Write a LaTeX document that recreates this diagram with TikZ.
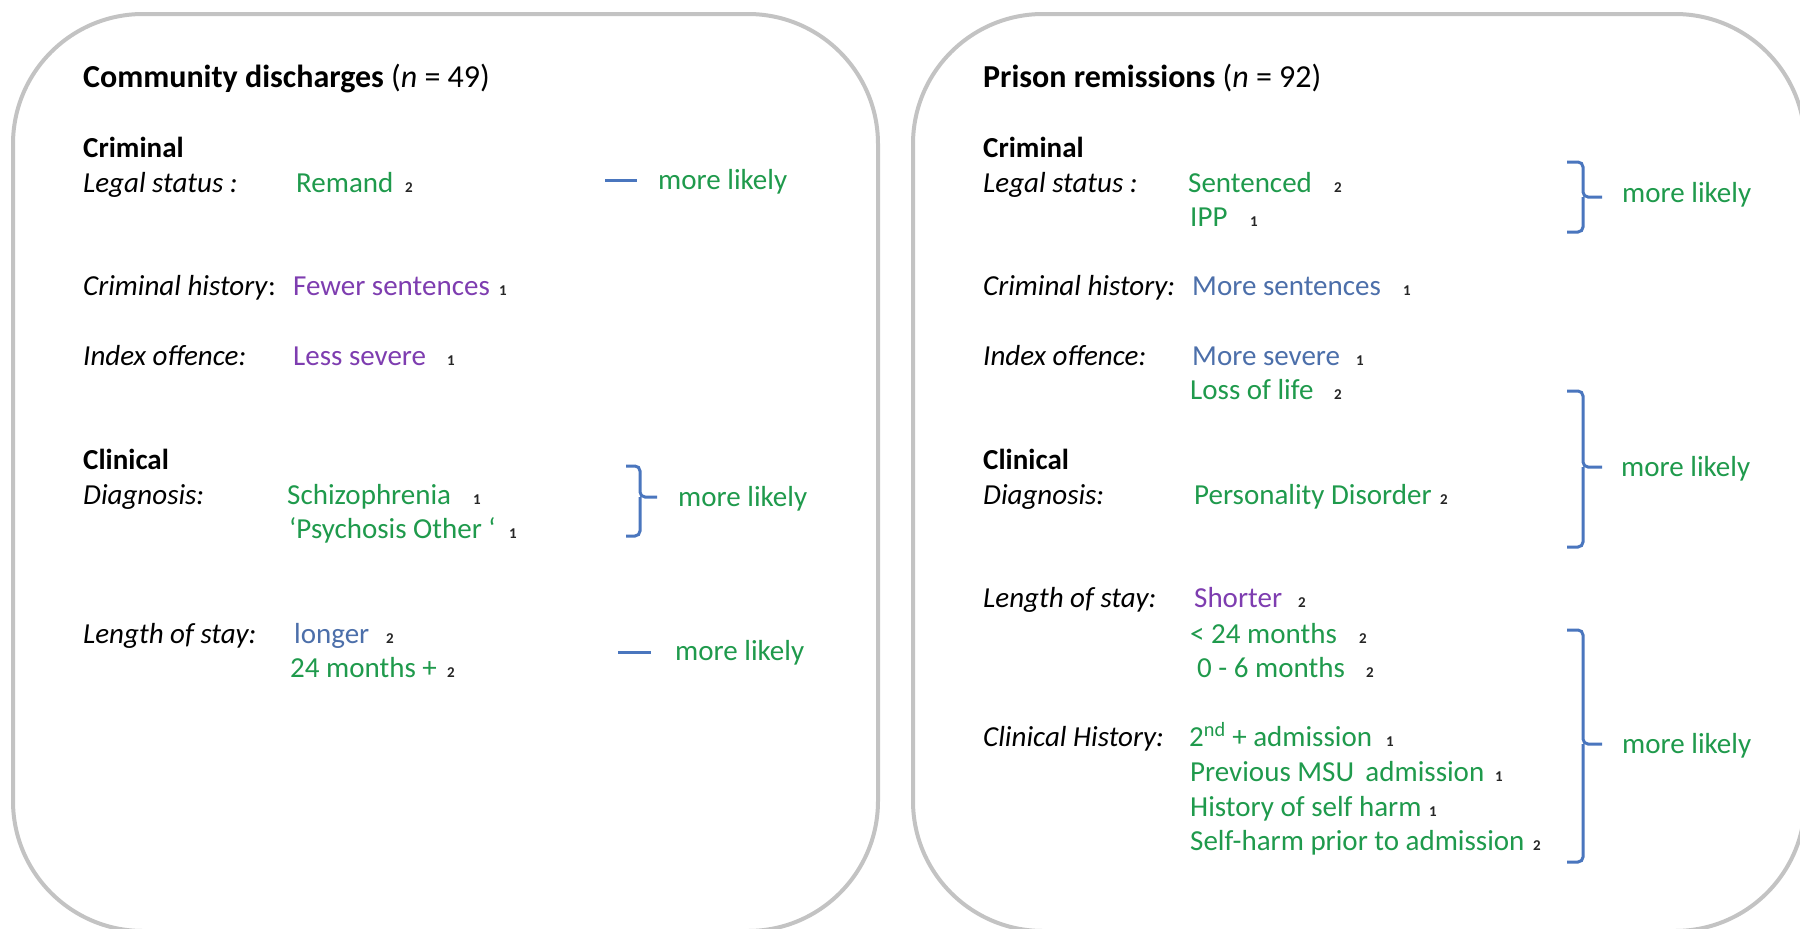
\documentclass[tikz,border=0pt]{standalone}
\usepackage{fontspec}
\setmainfont{Carlito}
\definecolor{cgreen}{HTML}{1F9A4C}
\definecolor{cpurple}{HTML}{7E3DB0}
\definecolor{cblue}{HTML}{4C6FAA}
\definecolor{cbrace}{HTML}{4A76BE}
\definecolor{cframe}{HTML}{C3C3C3}
\begin{document}
\fontsize{29}{35}\selectfont
\begin{tikzpicture}[x=1pt,y=-1pt,
  panel/.style={draw=cframe, line width=4pt, rounded corners=130pt},
  head/.style={anchor=base west, inner sep=0pt, font=\fontsize{32}{38}\selectfont},
  sect/.style={anchor=base west, inner sep=0pt, font=\bfseries},
  lbl/.style={anchor=base west, inner sep=0pt, font=\itshape},
  val/.style={anchor=base west, inner sep=0pt, text=cgreen},
  valp/.style={val, text=cpurple},
  valb/.style={val, text=cblue},
  ref/.style={anchor=base west, inner sep=0pt, text=black!85, font=\fontsize{15}{15}\selectfont\bfseries},
  likely/.style={anchor=base west, inner sep=0pt, text=cgreen},
  bracket/.style={draw=cbrace, line width=3pt, rounded corners=5pt},
  tick/.style={draw=cbrace, line width=3pt}
]
\useasboundingbox (0,0) rectangle (1800,929);
\clip (0,0) rectangle (1800,929);
\fill[white] (0,0) rectangle (1800,929);

% two rounded panels
\draw[panel] (13,14) rectangle (878,931);
\draw[panel] (913,14) rectangle (1805,931);

% ---------------- community discharges ----------------
\node[head] (h1) at (83,87) {\textbf{Community discharges} (\textit{n} = 49)};
\node[sect] (c1) at (83,157) {Criminal};
\node[lbl] (l1) at (83,192) {Legal status :};
\node[val] (v1) at (296,192) {Remand};
\node[ref] (r1) at (405,192) {2};
\coordinate (d1a) at (605,180);
\coordinate (d1b) at (637,180);
\draw[tick] (d1a) -- (d1b);
\node[likely] (m1) at (658,189) {more likely};

\node[lbl] (l2) at (83,295) {Criminal history\/\upshape:};
\node[valp] (v2) at (293,295) {Fewer sentences};
\node[ref] (r2) at (499,295) {1};

\node[lbl] (l3) at (83,365) {Index offence:};
\node[valp] (v3) at (293,365) {Less severe};
\node[ref] (r3) at (447,365) {1};

\node[sect] (c2) at (83,469) {Clinical};
\node[lbl] (l4) at (83,504) {Diagnosis:};
\node[val] (v4) at (287,504) {Schizophrenia};
\node[ref] (r4) at (473,504) {1};
\node[val] (v5) at (289,538) {‘Psychosis Other ‘};
\node[ref] (r5) at (509,538) {1};
\draw[bracket] (626,466) -| (640,497) -- (657,497);
\draw[bracket] (640,497) |- (626,536);
\node[likely] (m2) at (678,506) {more likely};

\node[lbl] (l5) at (83,643) {Length of stay:};
\node[valb] (v6) at (294,643) {longer};
\node[ref] (r6) at (386,643) {2};
\node[val] (v7) at (290,677) {24 months +};
\node[ref] (r7) at (447,677) {2};
\coordinate (d2a) at (618,652);
\coordinate (d2b) at (651,652);
\draw[tick] (d2a) -- (d2b);
\node[likely] (m3) at (675,660) {more likely};

% ---------------- prison remissions ----------------
\node[head] (h2) at (983,87) {\textbf{Prison remissions} (\textit{n} = 92)};
\node[sect] (c3) at (983,157) {Criminal};
\node[lbl] (k1) at (983,192) {Legal status :};
\node[val] (w1) at (1188,192) {Sentenced};
\node[ref] (s1) at (1334,192) {2};
\node[val] (w2) at (1190,226) {IPP};
\node[ref] (s2) at (1250,226) {1};
\draw[bracket] (1567,162) -| (1583,197) -- (1602,197);
\draw[bracket] (1583,197) |- (1567,232);
\node[likely] (n1) at (1622,202) {more likely};

\node[lbl] (k2) at (983,295) {Criminal history:};
\node[valb] (w3) at (1192,295) {More sentences};
\node[ref] (s3) at (1403,295) {1};

\node[lbl] (k3) at (983,365) {Index offence:};
\node[valb] (w4) at (1192,365) {More severe};
\node[ref] (s4) at (1356,365) {1};
\node[val] (w5) at (1190,399) {Loss of life};
\node[ref] (s5) at (1334,399) {2};
\draw[bracket] (1567,391) -| (1583,467) -- (1602,467);
\draw[bracket] (1583,467) |- (1567,547);
\node[likely] (n2) at (1621,476) {more likely};

\node[sect] (c4) at (983,469) {Clinical};
\node[lbl] (k4) at (983,504) {Diagnosis:};
\node[val] (w6) at (1194,504) {Personality Disorder};
\node[ref] (s6) at (1440,504) {2};

\node[lbl] (k5) at (983,607) {Length of stay:};
\node[valp] (w7) at (1194,607) {Shorter};
\node[ref] (s7) at (1298,607) {2};
\node[val] (w8) at (1190,643) {< 24 months};
\node[ref] (s8) at (1359,643) {2};
\node[val] (w9) at (1197,677) {0 - 6 months};
\node[ref] (s9) at (1366,677) {2};

\node[lbl] (k6) at (983,746) {Clinical History:};
\node[val] (w10) at (1189,746) {2\textsuperscript{nd} + admission};
\node[ref] (s10) at (1386,746) {1};
\node[val] (w11) at (1190,781) {Previous MSU\, admission};
\node[ref] (s11) at (1495,781) {1};
\node[val] (w12) at (1190,816) {History of self harm};
\node[ref] (s12) at (1429,816) {1};
\node[val] (w13) at (1190,850) {Self-harm prior to admission};
\node[ref] (s13) at (1533,850) {2};
\draw[bracket] (1567,630) -| (1583,744) -- (1602,744);
\draw[bracket] (1583,744) |- (1567,862);
\node[likely] (n3) at (1622,753) {more likely};
\end{tikzpicture}
\end{document}
